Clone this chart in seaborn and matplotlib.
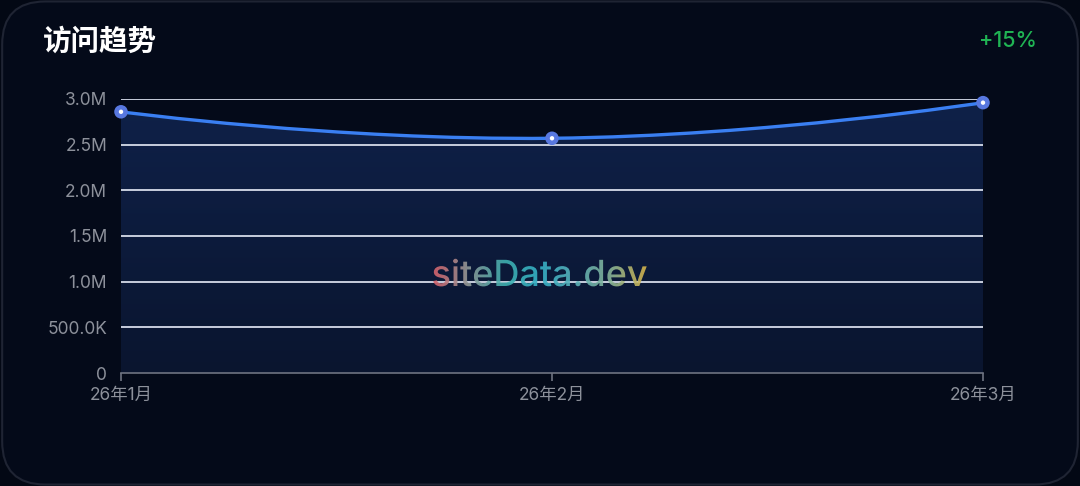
import matplotlib
matplotlib.use("Agg")
import matplotlib.pyplot as plt
import seaborn as sns
import numpy as np
import pandas as pd
from matplotlib.path import Path
from matplotlib.patches import PathPatch, FancyBboxPatch
from matplotlib.textpath import TextPath
from matplotlib.font_manager import FontProperties
from matplotlib.colors import LinearSegmentedColormap
from matplotlib.ticker import FuncFormatter

# data
months = ["26年1月", "26年2月", "26年3月"]
visits = [2860000, 2570000, 2960000]
y_ticks = [0, 500000, 1000000, 1500000, 2000000, 2500000, 3000000]
title = "访问趋势"
change = "+15%"

BG = "#030814"
sns.set_theme(style="dark")
plt.rcParams["font.family"] = ["Noto Sans CJK SC", "DejaVu Sans"]
TICK_FONT = ["Inter", "Noto Sans CJK SC", "DejaVu Sans"]

fig = plt.figure(figsize=(10.8, 4.86), dpi=100)
fig.patch.set_facecolor(BG)

# card background with rounded border
card = FancyBboxPatch((0.002, 0.003), 0.996, 0.994, boxstyle="round,pad=0,rounding_size=0.04",
                      transform=fig.transFigure, facecolor="#040a19", edgecolor="#1f2433",
                      linewidth=1.5, mutation_aspect=1080 / 486, zorder=-5)
fig.patches.append(card)

ax = fig.add_axes([121 / 1080, 1 - 373 / 486, (983 - 121) / 1080, (373 - 99) / 486], zorder=1)
ax.set_facecolor("none")

df = pd.DataFrame({"month": months, "visits": visits})
xs = np.arange(len(months))
ys = np.array(visits, dtype=float)

# smooth bezier path (echarts-like smoothing, smooth=0.5)
verts = [(xs[0], ys[0])]
codes = [Path.MOVETO]
cps = []
for i in range(len(xs)):
    if i == 0 or i == len(xs) - 1:
        cps.append(((xs[i], ys[i]), (xs[i], ys[i])))
    else:
        vx = xs[i + 1] - xs[i - 1]
        vy = ys[i + 1] - ys[i - 1]
        cps.append(((xs[i] - vx * 0.25, ys[i] - vy * 0.25), (xs[i] + vx * 0.25, ys[i] + vy * 0.25)))
for i in range(1, len(xs)):
    verts += [cps[i - 1][1], cps[i][0], (xs[i], ys[i])]
    codes += [Path.CURVE4] * 3
line_path = Path(verts, codes)
fill_path = Path(verts + [(xs[-1], 0), (xs[0], 0), (xs[0], ys[0])],
                 codes + [Path.LINETO, Path.LINETO, Path.CLOSEPOLY])

# gradient fill under curve
fill_patch = PathPatch(fill_path, facecolor="none", edgecolor="none", transform=ax.transData)
ax.add_patch(fill_patch)
grad = np.linspace(1, 0, 256).reshape(-1, 1)
fill_cmap = LinearSegmentedColormap.from_list("f", ["#0a152f", "#0f2149"])
im = ax.imshow(grad, cmap=fill_cmap, aspect="auto", extent=[xs[0], xs[-1], 0, 3000000],
               origin="upper", zorder=1)
im.set_clip_path(fill_patch)

# gridlines
for t in y_ticks[1:]:
    ax.axhline(t, color="#d6dcea", linewidth=1.3, zorder=2)

# line
ax.add_patch(PathPatch(line_path, facecolor="none", edgecolor="#3a7ff2", linewidth=2.4,
                       capstyle="round", zorder=4))

# markers
sns.scatterplot(data=df, x=xs, y="visits", s=95, color="#5878e0", edgecolor="none", ax=ax,
                zorder=5, clip_on=False)
sns.scatterplot(data=df, x=xs, y="visits", s=10, color="white", edgecolor="none", ax=ax,
                zorder=6, clip_on=False)

def fmt(v, pos):
    if v == 0:
        return "0"
    if v >= 1e6:
        return f"{v / 1e6:.1f}M"
    return f"{v / 1e3:.1f}K"

ax.set_yticks(y_ticks)
ax.yaxis.set_major_formatter(FuncFormatter(fmt))
ax.set_xticks(xs)
ax.set_xticklabels(months)
ax.set_xlabel("")
ax.set_ylabel("")
ax.tick_params(axis="y", length=0, pad=10, labelsize=12.5, labelcolor="#8d919b")
ax.tick_params(axis="x", length=6, width=1.2, color="#6e7381", pad=4, labelsize=12.5,
               labelcolor="#8d919b", bottom=True)
for lab in ax.get_xticklabels() + ax.get_yticklabels():
    lab.set_family(TICK_FONT)
for s in ["top", "right", "left"]:
    ax.spines[s].set_visible(False)
ax.spines["bottom"].set_color("#6e7381")
ax.spines["bottom"].set_linewidth(1.2)
ax.grid(False)
ax.set_xlim(xs[0], xs[-1])
ax.set_ylim(0, 3000000)

# title and change badge
fig.text(43 / 1080, 1 - 42 / 486, title, color="white", fontsize=20.5, fontweight="bold",
         ha="left", va="center")
fig.text(1037 / 1080, 1 - 41 / 486, change, color="#20b454", fontsize=15.5, fontweight="medium",
         ha="right", va="center", family=["Inter", "DejaVu Sans"])

# gradient watermark
ov = fig.add_axes([0, 0, 1, 1], zorder=10)
ov.set_xlim(0, 1080)
ov.set_ylim(0, 486)
ov.axis("off")
ov.patch.set_alpha(0)
tp = TextPath((0, 0), "siteData.dev", size=36, prop=FontProperties(family="Inter", weight="medium"))
bb = tp.get_extents()
w = bb.width
ox = 540 - w / 2 - bb.x0
oy = 486 - 286
tp = Path(tp.vertices + np.array([ox, oy]), tp.codes)
tpatch = PathPatch(tp, facecolor="none", edgecolor="none")
ov.add_patch(tpatch)
wm_cmap = LinearSegmentedColormap.from_list(
    "wm", ["#d8626c", "#8f9a98", "#3fb0b0", "#35b2c8", "#5ab0b8", "#88b496", "#d8b44a"])
gim = ov.imshow(np.linspace(0, 1, 256).reshape(1, -1), cmap=wm_cmap, aspect="auto",
                extent=[540 - w / 2, 540 + w / 2, oy + bb.y0 - 2, oy + bb.y1 + 2], alpha=0.9)
gim.set_clip_path(tpatch)
ov.set_xlim(0, 1080)
ov.set_ylim(0, 486)

fig.savefig("out.png", dpi=100, facecolor=fig.get_facecolor())
